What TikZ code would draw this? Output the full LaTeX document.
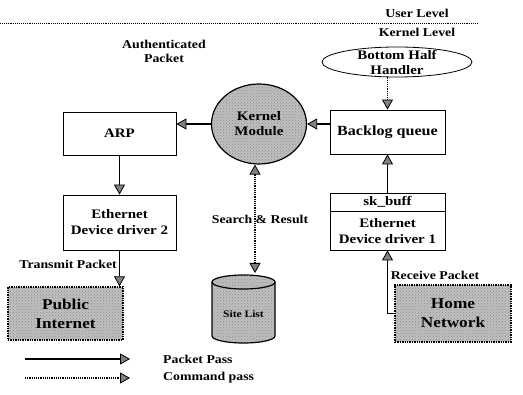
\documentclass[tikz,border=0pt]{standalone}
\usepackage{fontspec}
\setmainfont{Liberation Serif}[FakeStretch=1.15]
\usetikzlibrary{arrows.meta,shapes.geometric,patterns}
\tikzset{
  >={Triangle[length=10pt,width=11pt,fill=gray,color=black,line width=0.8pt]},
  box/.style={draw,line width=0.8pt,align=center,font=\fontsize{13}{16}\selectfont\bfseries},
  lbl/.style={align=center,inner sep=0pt,font=\fontsize{12}{14}\selectfont\bfseries},
  grayfill/.style={preaction={fill=gray!50},pattern=crosshatch dots,pattern color=gray!90},
  graybox/.style={grayfill,draw,densely dotted,line width=1.4pt,align=center,
    font=\fontsize{15}{19}\selectfont\bfseries},
  pk/.style={line width=1.2pt},
  cmd/.style={line width=1.2pt,densely dotted},
}
\begin{document}
\begin{tikzpicture}[x=1pt,y=-1pt]
\useasboundingbox (0,0) rectangle (523,395);
% level separator
\draw[densely dotted,line width=0.9pt] (0,23) -- (478,23);
\node[lbl] (user) at (417,13) {User Level};
\node[lbl] (kern) at (417,32) {Kernel Level};
% nodes
\node[draw,ellipse,line width=0.8pt,minimum width=150pt,minimum height=30pt] (bh) at (397,62) {};
\node[align=center,font=\fontsize{13}{15}\selectfont\bfseries] (bhtext) at (bh) {Bottom Half\\Handler};
\node[draw,ellipse,line width=1.2pt,grayfill,minimum width=95pt,minimum height=80pt,inner sep=0pt,
  align=center,font=\fontsize{13}{15}\selectfont\bfseries] (km) at (259,124) {Kernel\\Module};
\node[box,minimum width=113pt,minimum height=43pt] (arp) at (119.5,133.5) {ARP};
\node[box,minimum width=115pt,minimum height=44pt,font=\fontsize{14}{16}\selectfont\bfseries] (back) at (387.5,132) {Backlog queue};
\node[box,minimum width=113pt,minimum height=55pt] (eth2) at (119.5,222.5) {Ethernet\\Device driver 2};
\node[box,minimum width=115pt,minimum height=57pt] (eth1) at (387.5,221.5) {};
\draw[line width=0.8pt] (eth1.north west |- 0,211) -- (eth1.north east |- 0,211);
\node[font=\fontsize{13}{15}\selectfont\bfseries] (skb) at (387.5,202) {sk\_buff};
\node[align=center,font=\fontsize{13}{16}\selectfont\bfseries] (eth1text) at (387.5,231) {Ethernet\\Device driver 1};
\node[graybox,minimum width=115pt,minimum height=53pt] (public) at (65.5,313.5) {Public\\Internet};
\node[graybox,minimum width=116pt,minimum height=57pt] (home) at (453,313.5) {Home\\Network};
% cylinder
\fill[gray!50] (212,282) -- (212,336) arc[start angle=180,end angle=360,x radius=31.5,y radius=-7] -- (275,282) arc[start angle=0,end angle=180,x radius=31.5,y radius=-7] -- cycle;
\fill[pattern=crosshatch dots,pattern color=gray!90] (212,282) -- (212,336) arc[start angle=180,end angle=360,x radius=31.5,y radius=-7] -- (275,282) arc[start angle=0,end angle=180,x radius=31.5,y radius=-7] -- cycle;
\draw[line width=1.2pt] (212,282) -- (212,336) arc[start angle=180,end angle=360,x radius=31.5,y radius=-7] -- (275,282);
\draw[line width=1.2pt] (243.5,282) ellipse[x radius=31.5,y radius=7];
\node[font=\fontsize{10}{12}\selectfont\bfseries] (site) at (243.5,314) {Site List};
\coordinate (sitetop) at (255,273);
% connectors
\draw[pk,->] (km.west) -- (km.west -| arp.east);
\draw[pk,->] (back.west |- km.east) -- (km.east);
\draw[cmd,->] (bh.south -| back.north) -- (back.north);
\draw[pk,->] (arp.south) -- (eth2.north);
\draw[pk,->] (eth2.south) -- (eth2.south |- public.north);
\draw[cmd,<->] (sitetop |- km.south) -- (sitetop);
\draw[pk,->] (eth1.north) -- (back.south);
\draw[pk,->] (home.west) -| (eth1.south);
% labels
\node[lbl] (auth) at (164,51) {Authenticated\\Packet};
\node[lbl] (sr) at (260,219) {Search \& Result};
\node[lbl,anchor=east] (tx) at (117,264) {Transmit Packet};
\node[lbl] (rx) at (435,275) {Receive Packet};
% legend
\coordinate (l1a) at (25,359);
\coordinate (l1b) at (130,359);
\coordinate (l2a) at (25,378);
\coordinate (l2b) at (130,378);
\draw[pk,->] (l1a) -- (l1b);
\draw[cmd,->] (l2a) -- (l2b);
\node[lbl,anchor=west] (lp) at (163,359) {Packet Pass};
\node[lbl,anchor=west] (lc) at (163,378) {Command pass};
\end{tikzpicture}
\end{document}
